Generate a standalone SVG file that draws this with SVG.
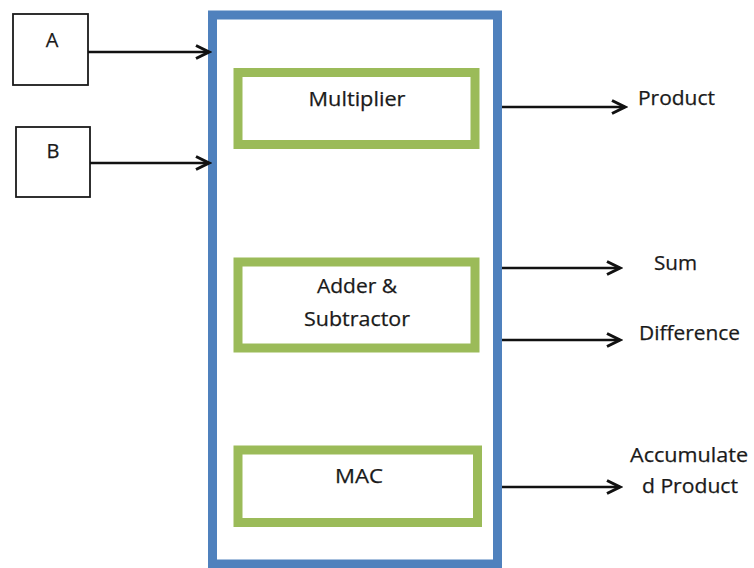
<svg xmlns="http://www.w3.org/2000/svg" width="754" height="568" viewBox="0 0 754 568">
<defs>
<style>
.in{fill:#fff;stroke:#1a1a1a;stroke-width:1.8}
.outer{fill:#fff;stroke:#4F81BD;stroke-width:9}
.blk{fill:#fff;stroke:#9BBB59;stroke-width:9}
.t{font-family:"Open Sans","Liberation Sans",sans-serif;font-size:20px;fill:#1a1a1a;stroke:#1a1a1a;stroke-width:0.25}
.c{text-anchor:middle}
.w{stroke:#111;stroke-width:2.4;fill:none}
</style>
<marker id="ah" markerWidth="18" markerHeight="16" refX="15" refY="8" orient="auto" markerUnits="userSpaceOnUse">
<path d="M2,1.5 L15,8 L2,14.5" fill="none" stroke="#111" stroke-width="3"/>
</marker>
</defs>
<g id="inputA"><rect class="in" x="13" y="14" width="75" height="71"/><text class="t c" x="52" y="47">A</text></g>
<g id="inputB"><rect class="in" x="16" y="127" width="74" height="70"/><text class="t c" x="53" y="158">B</text></g>
<g id="unit"><rect class="outer" x="212.5" y="15" width="285" height="549"/></g>
<g id="multiplier"><rect class="blk" x="238" y="72.5" width="237" height="72"/><text class="t c" x="357" y="106" textLength="97" lengthAdjust="spacingAndGlyphs">Multiplier</text></g>
<g id="addsub"><rect class="blk" x="238" y="262" width="237" height="86"/><text class="t c" x="357" y="293" textLength="80" lengthAdjust="spacingAndGlyphs">Adder &amp;</text><text class="t c" x="357" y="326" textLength="106" lengthAdjust="spacingAndGlyphs">Subtractor</text></g>
<g id="mac"><rect class="blk" x="238" y="450" width="239.5" height="72.5"/><text class="t c" x="359" y="483" textLength="48" lengthAdjust="spacingAndGlyphs">MAC</text></g>
<g id="connectors">
<line class="w" x1="88" y1="52" x2="209" y2="52" marker-end="url(#ah)"/>
<line class="w" x1="90" y1="163" x2="209" y2="163" marker-end="url(#ah)"/>
<line class="w" x1="502" y1="107" x2="625" y2="107" marker-end="url(#ah)"/>
<line class="w" x1="502" y1="268" x2="620" y2="268" marker-end="url(#ah)"/>
<line class="w" x1="502" y1="340" x2="620" y2="340" marker-end="url(#ah)"/>
<line class="w" x1="502" y1="487" x2="620" y2="487" marker-end="url(#ah)"/>
</g>
<g id="labels">
<text class="t" x="638" y="105" textLength="77" lengthAdjust="spacingAndGlyphs">Product</text>
<text class="t" x="654" y="270" textLength="43" lengthAdjust="spacingAndGlyphs">Sum</text>
<text class="t" x="639" y="340" textLength="101" lengthAdjust="spacingAndGlyphs">Difference</text>
<text class="t" x="630" y="462" textLength="118" lengthAdjust="spacingAndGlyphs">Accumulate</text>
<text class="t" x="642" y="493" textLength="96" lengthAdjust="spacingAndGlyphs">d Product</text>
</g>
</svg>
